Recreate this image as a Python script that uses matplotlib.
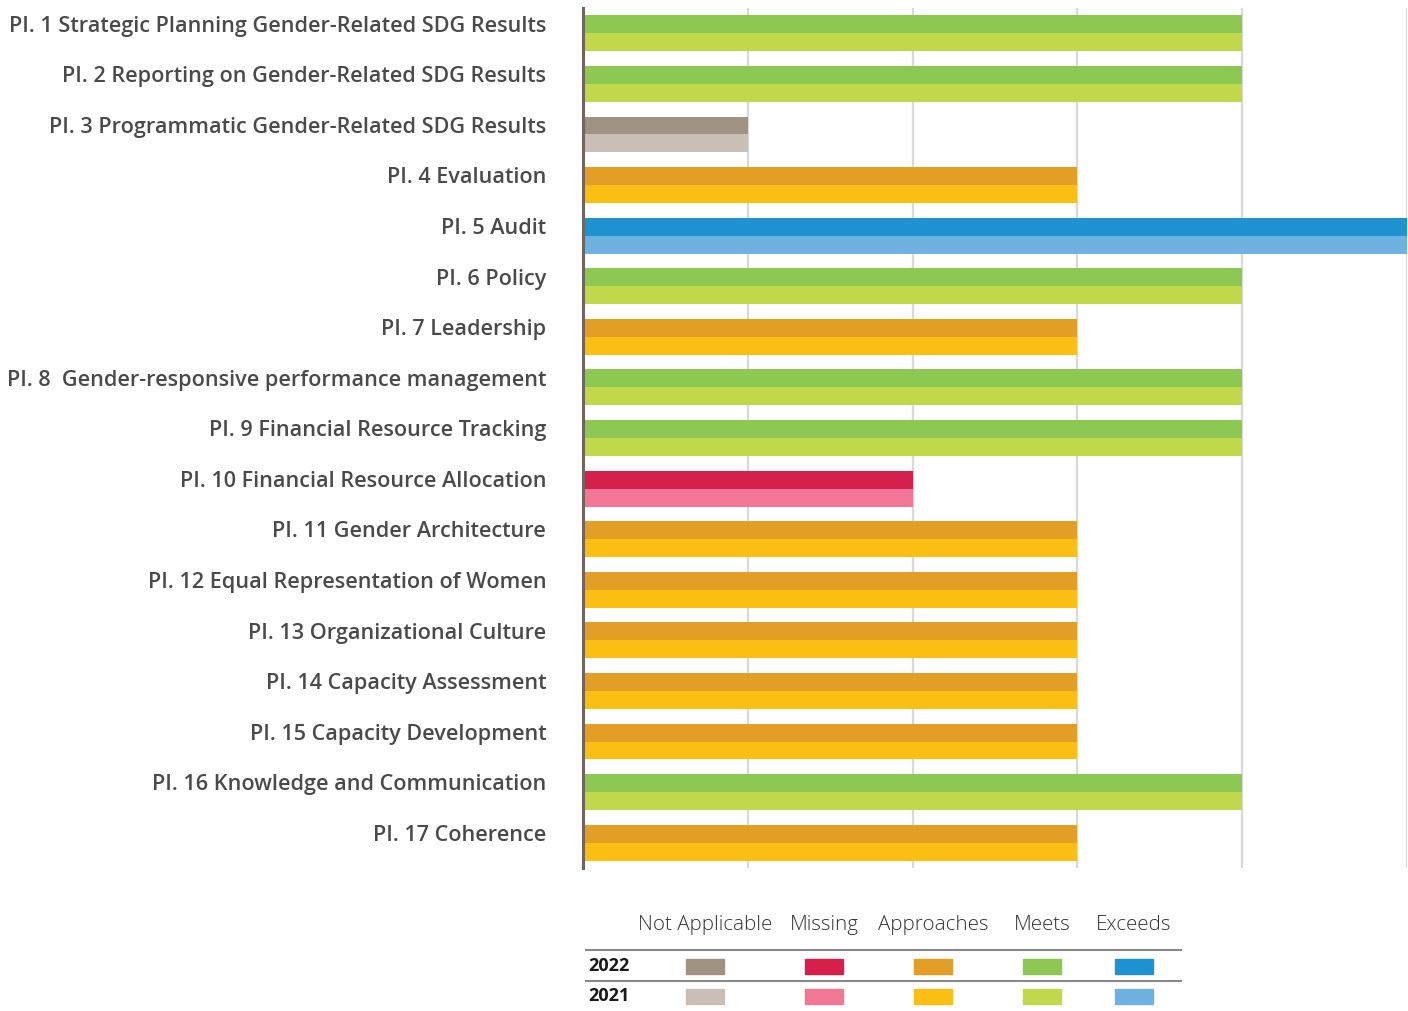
import matplotlib
matplotlib.use("Agg")
import matplotlib.pyplot as plt
import matplotlib.transforms as mtransforms
from matplotlib.patches import Rectangle
from matplotlib.lines import Line2D
import numpy as np

# indicator labels (top to bottom)
indicators = [
    "PI. 1 Strategic Planning Gender-Related SDG Results",
    "PI. 2 Reporting on Gender-Related SDG Results",
    "PI. 3 Programmatic Gender-Related SDG Results",
    "PI. 4 Evaluation",
    "PI. 5 Audit",
    "PI. 6 Policy",
    "PI. 7 Leadership",
    "PI. 8  Gender-responsive performance management",
    "PI. 9 Financial Resource Tracking",
    "PI. 10 Financial Resource Allocation",
    "PI. 11 Gender Architecture",
    "PI. 12 Equal Representation of Women",
    "PI. 13 Organizational Culture",
    "PI. 14 Capacity Assessment",
    "PI. 15 Capacity Development",
    "PI. 16 Knowledge and Communication",
    "PI. 17 Coherence",
]

# rating: 1 Not Applicable, 2 Missing, 3 Approaches, 4 Meets, 5 Exceeds
rating_2022 = [4, 4, 1, 3, 5, 4, 3, 4, 4, 2, 3, 3, 3, 3, 3, 4, 3]
rating_2021 = [4, 4, 1, 3, 5, 4, 3, 4, 4, 2, 3, 3, 3, 3, 3, 4, 3]

categories = ["Not Applicable", "Missing", "Approaches", "Meets", "Exceeds"]
colors_2022 = ["#A09282", "#D61F4B", "#E39F25", "#8DC853", "#1F92D1"]
colors_2021 = ["#C9BFB7", "#F27796", "#FBBF14", "#C0D84A", "#6FB1E0"]

plt.rcParams['font.family'] = ['Open Sans', 'DejaVu Sans']

fig = plt.figure(figsize=(14.08, 10.11), dpi=100)
ax = fig.add_axes([583 / 1408, 143 / 1011, 824 / 1408, 860 / 1011])

y = np.arange(len(indicators))
h = 0.355
c22 = [colors_2022[v - 1] for v in rating_2022]
c21 = [colors_2021[v - 1] for v in rating_2021]
ax.barh(y - h / 2, rating_2022, height=h, color=c22, zorder=2)
ax.barh(y + h / 2, rating_2021, height=h, color=c21, zorder=2)

ax.set_xlim(0, 5)
ax.set_ylim(len(indicators) - 0.5, -0.5)
ax.set_xticks([1, 2, 3, 4, 5])
ax.set_xticklabels([])
ax.tick_params(axis='both', length=0)
ax.grid(axis='x', color='#d9d9d9', linewidth=1.6, zorder=0)

for s in ['top', 'right', 'bottom']:
    ax.spines[s].set_visible(False)
ax.spines['left'].set_color('#6f675f')
ax.spines['left'].set_linewidth(2.2)
ax.spines['left'].set_zorder(3)

ax.set_yticks(y)
ax.set_yticklabels(indicators, fontsize=15.6, fontweight='semibold', color='#4a4a4a')
ax.tick_params(axis='y', pad=26.5)
offset = mtransforms.ScaledTranslation(0, 7 / 72, fig.dpi_scale_trans)
for lab in ax.get_yticklabels():
    lab.set_transform(lab.get_transform() + offset)

# legend table
W, H = 1408, 1011
def fx(px):
    return px / W
def fy(py):
    return 1 - py / H

col_x = [705, 824, 933, 1042, 1134]
for name, cx in zip(categories, col_x):
    fig.text(fx(cx), fy(925), name, ha='center', va='center', fontsize=14.8,
             fontweight='light', color='#333333')

for ly in (950, 981):
    fig.add_artist(Line2D([fx(586), fx(1181)], [fy(ly), fy(ly)], color='#888888',
                          linewidth=1.5, transform=fig.transFigure))

rows = [("2022", 966, colors_2022), ("2021", 996, colors_2021)]
for year, ry, cols in rows:
    fig.text(fx(588), fy(ry), year, ha='left', va='center', fontsize=13,
             fontweight='bold', color='#1a1a1a')
    for cx, col in zip(col_x, cols):
        fig.add_artist(Rectangle((fx(cx - 19), fy(ry + 8)), fx(38), 15 / H,
                                 color=col, transform=fig.transFigure))

fig.savefig("out.png", dpi=100)
